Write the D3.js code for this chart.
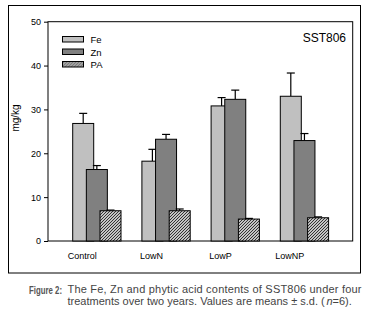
<!DOCTYPE html>
<html lang="en">
<head>
<meta charset="UTF-8">
<title>Fe, Zn and phytic acid contents of SST806</title>
<script src="https://d3js.org/d3.v7.min.js"></script>
<style>
  body { margin: 0; background: #fff; }
  svg { display: block; font-family: Arial, "Liberation Sans", sans-serif; }
</style>
</head>
<body>
<div id="chart"></div>
<script>
// chart data
const treatments = ["Control", "LowN", "LowP", "LowNP"];
const seriesNames = ["Fe", "Zn", "PA"];
const feMeans = [26.8, 18.2, 30.8, 33.0];
const feSd    = [2.3, 2.7, 1.9, 5.3];
const znMeans = [16.3, 23.2, 32.3, 22.9];
const znSd    = [0.9, 1.1, 2.1, 1.6];
const paMeans = [6.9, 6.9, 5.0, 5.3];
const paSd    = [0.15, 0.4, 0.15, 0.2];
const yTicks  = [0, 10, 20, 30, 40, 50];

const width = 366, height = 321;
const svg = d3.select("#chart").append("svg")
    .attr("width", width)
    .attr("height", height);

// pattern for phytic acid bars
const defs = svg.append("defs");
const pat = defs.append("pattern")
    .attr("id", "hatch")
    .attr("patternUnits", "userSpaceOnUse")
    .attr("width", 3).attr("height", 3);
pat.append("rect").attr("width", 3).attr("height", 3).attr("fill", "#c4c4c4");
pat.append("path")
    .attr("d", "M-1,1 L1,-1 M0,3 L3,0 M2,4 L4,2")
    .attr("stroke", "#333").attr("stroke-width", 1);

// outer frame
svg.append("rect")
    .attr("x", 8.5).attr("y", 5.5)
    .attr("width", 352).attr("height", 267.5)
    .attr("fill", "none").attr("stroke", "#000").attr("stroke-width", 1);

const plot = { left: 48, right: 352.7, top: 21.7, bottom: 241 };

const y = d3.scaleLinear().domain([0, 50]).range([plot.bottom, plot.top]);

// group positions, bars inside a group overlap a little
const x = d3.scaleBand().domain(treatments)
    .range([72.7, 72.7 + 4 * 69.2])
    .paddingInner(0).paddingOuter(0);
const offset = d3.scaleLinear().domain([0, 2]).range([0, 27.3]);
const barW = 21;

const series = [
  { name: "Fe", means: feMeans, sd: feSd, fill: "#c0c0c0" },
  { name: "Zn", means: znMeans, sd: znSd, fill: "#808080" },
  { name: "PA", means: paMeans, sd: paSd, fill: "url(#hatch)" }
];

// plot box
svg.append("rect")
    .attr("x", plot.left).attr("y", plot.top)
    .attr("width", plot.right - plot.left).attr("height", plot.bottom - plot.top)
    .attr("fill", "none").attr("stroke", "#000").attr("stroke-width", 1);

// bars and error bars, drawn group by group
treatments.forEach((t, i) => {
  series.forEach((s, k) => {
    const x0 = x(t) + offset(k);
    const cx = x0 + barW / 2;
    const g = svg.append("g");
    // error bar first so the bar top covers its base
    g.append("line")
        .attr("x1", cx).attr("x2", cx)
        .attr("y1", y(s.means[i])).attr("y2", y(s.means[i] + s.sd[i]))
        .attr("stroke", "#000").attr("stroke-width", 1.2);
    g.append("line")
        .attr("x1", cx - 4).attr("x2", cx + 4)
        .attr("y1", y(s.means[i] + s.sd[i])).attr("y2", y(s.means[i] + s.sd[i]))
        .attr("stroke", "#000").attr("stroke-width", 1.2);
    g.append("rect")
        .attr("x", x0).attr("y", y(s.means[i]))
        .attr("width", barW).attr("height", y(0) - y(s.means[i]))
        .attr("fill", s.fill).attr("stroke", "#000").attr("stroke-width", 1);
  });
});

// y axis
const yAxis = svg.append("g")
    .attr("transform", `translate(${plot.left},0)`)
    .call(d3.axisLeft(y).tickValues(yTicks).tickSize(4).tickPadding(3));
yAxis.select(".domain").remove();
yAxis.selectAll("text").attr("font-size", 9).attr("fill", "#000")
    .attr("font-family", "Arial, 'Liberation Sans', sans-serif");
yAxis.selectAll("line").attr("stroke", "#000");

// x labels, centred under the first bar of each group
svg.append("g").selectAll("text")
  .data(treatments)
  .join("text")
    .attr("x", d => x(d) + barW / 2 - 1)
    .attr("y", 259)
    .attr("text-anchor", "middle")
    .attr("font-size", 9)
    .text(d => d);

// y label
svg.append("text")
    .attr("transform", "translate(19,118) rotate(-90)")
    .attr("text-anchor", "middle")
    .attr("font-size", 10)
    .text("mg/kg");

// title in plot
svg.append("text")
    .attr("x", 346).attr("y", 42)
    .attr("text-anchor", "end")
    .attr("font-size", 12)
    .text("SST806");

// legend
const legend = svg.append("g").attr("transform", "translate(62.5,36.5)");
series.forEach((s, k) => {
  legend.append("rect")
      .attr("x", 0).attr("y", k * 12.5)
      .attr("width", 21).attr("height", 5.5)
      .attr("fill", s.fill).attr("stroke", "#000").attr("stroke-width", 1);
  legend.append("text")
      .attr("x", 28).attr("y", k * 12.5 + 6.5)
      .attr("font-size", 9.5)
      .text(seriesNames[k]);
});

// caption: the condensed face is imitated by squeezing each line horizontally
function squeezed(x0, y0, width, opts) {
  const t = svg.append("text")
      .attr("font-size", opts.size || 10.5)
      .attr("fill", opts.fill || "#444");
  if (opts.bold) t.attr("font-weight", "bold");
  if (opts.italic) t.attr("font-style", "italic");
  t.text(opts.text);
  const natural = t.node().getComputedTextLength();
  const sx = opts.sx || width / natural;
  if (opts.justify) {
    t.attr("textLength", width / sx).attr("lengthAdjust", "spacing");
  }
  t.attr("transform", `translate(${x0},${y0}) scale(${sx},1)`);
  return sx;
}

squeezed(29, 293.5, 33, { text: "Figure 2:", bold: true, fill: "#555", size: 11.5 });
const sx = squeezed(67.5, 304.5, 257.5,
    { text: "treatments over two years. Values are means \u00b1 s.d. (" });
squeezed(67.5, 293, 294,
    { text: "The Fe, Zn and phytic acid contents of SST806 under four", sx: sx, justify: true });
squeezed(326.5, 304.5, 5.5, { text: "n", italic: true, sx: sx });
squeezed(332.5, 304.5, 12.5, { text: "=6).", sx: sx });
</script>
</body>
</html>
